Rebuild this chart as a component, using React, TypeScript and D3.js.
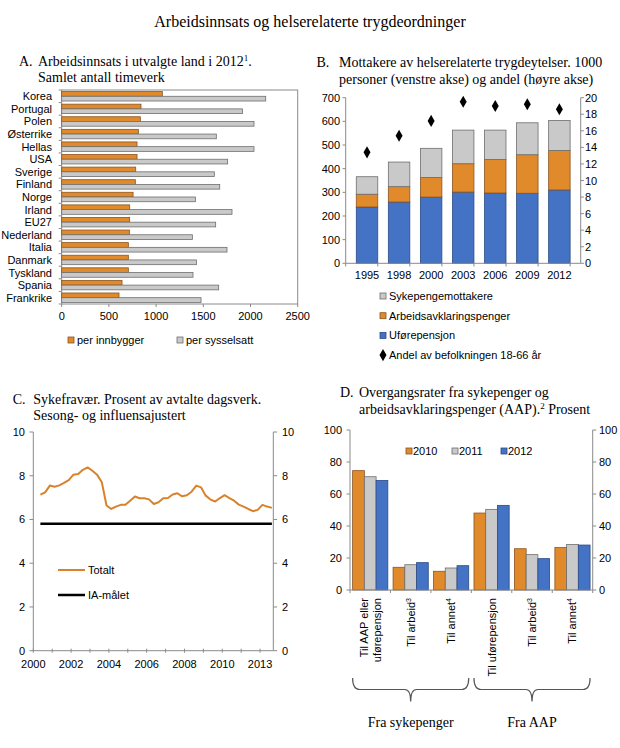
import React from "react";
import * as d3 from "d3";

// Panel A: arbeidsinnsats 2012
const countries = ["Korea", "Portugal", "Polen", "Østerrike", "Hellas", "USA", "Sverige", "Finland", "Norge", "Irland", "EU27", "Nederland", "Italia", "Danmark", "Tyskland", "Spania", "Frankrike"];
const perInnbygger = [1066, 840, 833, 812, 798, 798, 784, 780, 756, 720, 720, 717, 706, 706, 706, 639, 607];
const perSysselsatt = [2161, 1914, 2037, 1638, 2037, 1758, 1617, 1674, 1416, 1804, 1631, 1384, 1751, 1427, 1391, 1663, 1476];
const ticksA = [0, 500, 1000, 1500, 2000, 2500];

// Panel B: mottakere (1000 personer) og andel (%)
const yearsB = ["1995", "1998", "2000", "2003", "2006", "2009", "2012"];
const uforepensjon = [238, 259, 280, 301, 297, 296, 310];
const arbeidsavklaring = [54, 65, 83, 120, 142, 163, 167];
const sykepengemottakere = [74, 104, 123, 142, 124, 135, 127];
const andelBefolkning = [13.4, 15.4, 17.2, 19.5, 19.0, 19.2, 18.6];

// Panel C: sykefravær, kvartal fra 2000K2
const firstQuarter = 2000.375;
const sykefravaer = [7.14, 7.24, 7.55, 7.5, 7.56, 7.67, 7.8, 8.05, 8.08, 8.27, 8.38, 8.23, 8.05, 7.7, 6.64, 6.48, 6.59, 6.67, 6.67, 6.86, 7.05, 6.97, 6.97, 6.92, 6.71, 6.79, 6.97, 6.98, 7.14, 7.2, 7.06, 7.11, 7.27, 7.55, 7.47, 7.09, 6.91, 6.82, 6.98, 7.11, 6.98, 6.86, 6.68, 6.59, 6.48, 6.38, 6.44, 6.67, 6.59, 6.53];
const iaMaalet = 5.8;
const yearTicksC = [2000, 2001, 2002, 2003, 2004, 2005, 2006, 2007, 2008, 2009, 2010, 2011, 2012];
const labelTicksC = [2000, 2002, 2004, 2006, 2008, 2010, 2012];
const labelTextC = ["2000", "2002", "2004", "2006", "2008", "2010", "2013"];

// Panel D: overgangsrater
const groupsD = ["g1", "g2", "g3", "g4", "g5", "g6"];
const groupLines = [["Til AAP eller", "uførepensjon"], ["Til arbeid"], ["Til annet"], ["Til uførepensjon"], ["Til arbeid"], ["Til annet"]];
const groupSups = ["", "3", "4", "", "3", "4"];
const rate2010 = [74.6, 14.2, 11.7, 48.1, 25.8, 26.5];
const rate2011 = [70.8, 15.8, 13.75, 50.4, 22.1, 28.5];
const rate2012 = [68.5, 17.1, 15.2, 52.9, 19.6, 28.1];
const seriesD = ["2010", "2011", "2012"];

const SANS = "'Liberation Sans', Arial, sans-serif";
const SERIF = "'Liberation Serif', 'Times New Roman', serif";
const ORANGE = "#E08A2B";
const ORANGE_S = "#8C5420";
const GRAY = "#C9C9C9";
const GRAY_S = "#6E6E6E";
const BLUE = "#4472C4";
const BLUE_S = "#2B4C86";
const AXIS = "#8A8A8A";

function PanelA() {
  const x = d3.scaleLinear().domain([0, 2500]).range([61.7, 297.7]);
  const y = d3.scaleBand().domain(countries).range([90, 304]).paddingInner(0.25).paddingOuter(0.125);
  const sub = d3.scaleBand().domain(["inn", "syss"]).range([0, y.bandwidth()]);
  const step = y.step();
  return (
    <g>
      <text fontFamily={SERIF} fontSize={14} x={19} y={66}>A.<tspan x={38}>Arbeidsinnsats i utvalgte land i 2012</tspan><tspan fontSize={9} dy={-5}>1</tspan><tspan dy={5}>.</tspan></text>
      <text fontFamily={SERIF} fontSize={14} x={38} y={82}>Samlet antall timeverk</text>
      <rect x={x(0)} y={90} width={x(2500) - x(0)} height={214} fill="none" stroke={AXIS} />
      {countries.map((c, i) => (
        <g key={c}>
          <rect x={x(0)} y={(y(c) ?? 0) + (sub("inn") ?? 0)} width={x(perInnbygger[i]) - x(0)} height={sub.bandwidth()} fill={ORANGE} stroke={ORANGE_S} strokeWidth={0.8} />
          <rect x={x(0)} y={(y(c) ?? 0) + (sub("syss") ?? 0)} width={x(perSysselsatt[i]) - x(0)} height={sub.bandwidth()} fill={GRAY} stroke={GRAY_S} strokeWidth={0.8} />
          <text fontFamily={SANS} fontSize={11} x={52} y={(y(c) ?? 0) + y.bandwidth() / 2 + 4} textAnchor="end">{c}</text>
        </g>
      ))}
      {d3.range(countries.length + 1).map(k => (
        <line key={k} x1={x(0) - 3} x2={x(0)} y1={90 + k * step} y2={90 + k * step} stroke={AXIS} />
      ))}
      {ticksA.map(t => (
        <g key={t}>
          <line x1={x(t)} x2={x(t)} y1={304} y2={307} stroke={AXIS} />
          <text fontFamily={SANS} fontSize={11} x={x(t)} y={320} textAnchor="middle">{t}</text>
        </g>
      ))}
      <rect x={68} y={337} width={6} height={6} fill={ORANGE} stroke={ORANGE_S} strokeWidth={0.8} />
      <text fontFamily={SANS} fontSize={11} x={77} y={344}>per innbygger</text>
      <rect x={177} y={337} width={6} height={6} fill={GRAY} stroke={GRAY_S} strokeWidth={0.8} />
      <text fontFamily={SANS} fontSize={11} x={186} y={344}>per sysselsatt</text>
    </g>
  );
}

function PanelB() {
  const x = d3.scaleBand().domain(yearsB).range([345.7, 580.7]).padding(0.33);
  const yL = d3.scaleLinear().domain([0, 700]).range([263.3, 97.7]);
  const yR = d3.scaleLinear().domain([0, 20]).range([263.3, 97.7]);
  const rows = yearsB.map((yr, i) => ({ yr, ufor: uforepensjon[i], aap: arbeidsavklaring[i], syke: sykepengemottakere[i] }));
  const stack = d3.stack<any>().keys(["ufor", "aap", "syke"])(rows);
  const fills: Record<string, [string, string]> = { ufor: [BLUE, BLUE_S], aap: [ORANGE, ORANGE_S], syke: [GRAY, GRAY_S] };
  const diamond = d3.symbol().type(d3.symbolDiamond).size(42)() ?? "";
  const step = x.step();
  const legend = [
    { key: "syke", label: "Sykepengemottakere" },
    { key: "aap", label: "Arbeidsavklaringspenger" },
    { key: "ufor", label: "Uførepensjon" },
  ];
  return (
    <g>
      <text fontFamily={SERIF} fontSize={14} x={316.5} y={67}>B.<tspan x={339}>Mottakere av helserelaterte trygdeytelser. 1000</tspan></text>
      <text fontFamily={SERIF} fontSize={14} x={339} y={84}>personer (venstre akse) og andel (høyre akse)</text>
      {stack.map(layer => (
        <g key={layer.key}>
          {layer.map((d, i) => (
            <rect key={i} x={x(yearsB[i])} y={yL(d[1])} width={x.bandwidth()} height={yL(d[0]) - yL(d[1])} fill={fills[layer.key][0]} stroke={fills[layer.key][1]} strokeWidth={0.8} />
          ))}
        </g>
      ))}
      {andelBefolkning.map((v, i) => (
        <path key={i} d={diamond} transform={`translate(${(x(yearsB[i]) ?? 0) + x.bandwidth() / 2},${yR(v)})`} fill="#000" />
      ))}
      <line x1={345.7} x2={345.7} y1={97.7} y2={263.3} stroke={AXIS} />
      <line x1={580.7} x2={580.7} y1={97.7} y2={263.3} stroke={AXIS} />
      <line x1={345.7} x2={580.7} y1={263.3} y2={263.3} stroke={AXIS} />
      {yL.ticks(7).map(t => (
        <g key={t}>
          <line x1={342.5} x2={345.7} y1={yL(t)} y2={yL(t)} stroke={AXIS} />
          <text fontFamily={SANS} fontSize={11} x={340} y={yL(t) + 4} textAnchor="end">{t}</text>
        </g>
      ))}
      {yR.ticks(10).map(t => (
        <g key={t}>
          <line x1={580.7} x2={583.9} y1={yR(t)} y2={yR(t)} stroke={AXIS} />
          <text fontFamily={SANS} fontSize={11} x={585} y={yR(t) + 4}>{t}</text>
        </g>
      ))}
      {d3.range(yearsB.length + 1).map(k => (
        <line key={k} x1={345.7 + k * step} x2={345.7 + k * step} y1={263.3} y2={266.5} stroke={AXIS} />
      ))}
      {yearsB.map(yr => (
        <text key={yr} fontFamily={SANS} fontSize={11} x={(x(yr) ?? 0) + x.bandwidth() / 2} y={279} textAnchor="middle">{yr}</text>
      ))}
      {legend.map((l, i) => (
        <g key={l.key}>
          <rect x={380} y={293 + i * 19.7} width={6} height={6} fill={fills[l.key][0]} stroke={fills[l.key][1]} strokeWidth={0.8} />
          <text fontFamily={SANS} fontSize={11} x={389} y={300 + i * 19.7}>{l.label}</text>
        </g>
      ))}
      <path d={diamond} transform={`translate(383,${296 + 3 * 19.7})`} fill="#000" />
      <text fontFamily={SANS} fontSize={11} x={389} y={300 + 3 * 19.7}>Andel av befolkningen 18-66 år</text>
    </g>
  );
}

function PanelC() {
  const x = d3.scaleLinear().domain([2000, 2012.7]).range([33.3, 273.3]);
  const y = d3.scaleLinear().domain([0, 10]).range([650.7, 432]);
  const line = d3.line<number>().x((_, i) => x(firstQuarter + i / 4)).y(d => y(d));
  const xEnd = firstQuarter + (sykefravaer.length - 1) / 4;
  return (
    <g>
      <text fontFamily={SERIF} fontSize={14} x={12.7} y={404}>C.<tspan x={33.3}>Sykefravær. Prosent av avtalte dagsverk.</tspan></text>
      <text fontFamily={SERIF} fontSize={14} x={33.3} y={420}>Sesong- og influensajustert</text>
      <line x1={33.3} x2={33.3} y1={432} y2={650.7} stroke={AXIS} />
      <line x1={273.3} x2={273.3} y1={432} y2={650.7} stroke={AXIS} />
      <line x1={33.3} x2={273.3} y1={650.7} y2={650.7} stroke={AXIS} />
      {y.ticks(5).map(t => (
        <g key={t}>
          <line x1={29.5} x2={33.3} y1={y(t)} y2={y(t)} stroke={AXIS} />
          <text fontFamily={SANS} fontSize={11} x={25} y={y(t) + 4} textAnchor="end">{t}</text>
          <line x1={273.3} x2={277.1} y1={y(t)} y2={y(t)} stroke={AXIS} />
          <text fontFamily={SANS} fontSize={11} x={282} y={y(t) + 4}>{t}</text>
        </g>
      ))}
      {yearTicksC.map(t => (
        <line key={t} x1={x(t)} x2={x(t)} y1={648.7} y2={652.7} stroke={AXIS} />
      ))}
      {labelTicksC.map((t, i) => (
        <text key={t} fontFamily={SANS} fontSize={11} x={x(t)} y={668} textAnchor="middle">{labelTextC[i]}</text>
      ))}
      <line x1={x(firstQuarter)} x2={x(xEnd)} y1={y(iaMaalet)} y2={y(iaMaalet)} stroke="#000" strokeWidth={2.5} />
      <path d={line(sykefravaer) ?? ""} fill="none" stroke="#D9822B" strokeWidth={2} strokeLinejoin="round" />
      <line x1={58} x2={85} y1={570} y2={570} stroke="#D9822B" strokeWidth={2} />
      <text fontFamily={SANS} fontSize={11} x={88} y={574}>Totalt</text>
      <line x1={58} x2={85} y1={595} y2={595} stroke="#000" strokeWidth={2.5} />
      <text fontFamily={SANS} fontSize={11} x={88} y={599}>IA-målet</text>
    </g>
  );
}

function PanelD() {
  const x0 = d3.scaleBand().domain(groupsD).range([350, 592.7]).paddingInner(0.13).paddingOuter(0.065);
  const x1 = d3.scaleBand().domain(seriesD).range([0, x0.bandwidth()]);
  const y = d3.scaleLinear().domain([0, 100]).range([590, 430]);
  const values: Record<string, number[]> = { "2010": rate2010, "2011": rate2011, "2012": rate2012 };
  const fills: Record<string, [string, string]> = { "2010": [ORANGE, ORANGE_S], "2011": [GRAY, GRAY_S], "2012": [BLUE, BLUE_S] };
  const step = x0.step();
  const brace = (a: number, b: number) => {
    const m = (a + b) / 2;
    const top = 678, mid = 689.5, tip = 701.5;
    return `M${a},${top} Q${a},${mid} ${a + 7},${mid} L${m - 6},${mid} Q${m},${mid} ${m},${tip} Q${m},${mid} ${m + 6},${mid} L${b - 7},${mid} Q${b},${mid} ${b},${top}`;
  };
  const b1a = x0("g1") ?? 0, b1b = (x0("g3") ?? 0) + x0.bandwidth();
  const b2a = x0("g4") ?? 0, b2b = (x0("g6") ?? 0) + x0.bandwidth();
  const legendX = [410, 456, 505];
  return (
    <g>
      <text fontFamily={SERIF} fontSize={14} x={340} y={397}>D.<tspan x={359}>Overgangsrater fra sykepenger og</tspan></text>
      <text fontFamily={SERIF} fontSize={14} x={359} y={414}>arbeidsavklaringspenger (AAP).<tspan fontSize={9} dy={-5}>2</tspan><tspan dy={5}> Prosent</tspan></text>
      {seriesD.map(s => (
        <g key={s}>
          {groupsD.map((g, i) => (
            <rect key={g} x={(x0(g) ?? 0) + (x1(s) ?? 0)} y={y(values[s][i])} width={x1.bandwidth()} height={y(0) - y(values[s][i])} fill={fills[s][0]} stroke={fills[s][1]} strokeWidth={0.8} />
          ))}
        </g>
      ))}
      <line x1={350} x2={350} y1={430} y2={590} stroke={AXIS} />
      <line x1={592.7} x2={592.7} y1={430} y2={590} stroke={AXIS} />
      <line x1={350} x2={592.7} y1={590} y2={590} stroke={AXIS} />
      {y.ticks(5).map(t => (
        <g key={t}>
          <line x1={346.5} x2={350} y1={y(t)} y2={y(t)} stroke={AXIS} />
          <text fontFamily={SANS} fontSize={11} x={342} y={y(t) + 4} textAnchor="end">{t}</text>
          <line x1={592.7} x2={596.2} y1={y(t)} y2={y(t)} stroke={AXIS} />
          <text fontFamily={SANS} fontSize={11} x={599} y={y(t) + 4}>{t}</text>
        </g>
      ))}
      {d3.range(groupsD.length + 1).map(k => (
        <line key={k} x1={350 + k * step} x2={350 + k * step} y1={590} y2={593} stroke={AXIS} />
      ))}
      {groupsD.map((g, i) => {
        const cx = (x0(g) ?? 0) + x0.bandwidth() / 2;
        const lines = groupLines[i];
        return lines.map((ln, j) => {
          const off = (j - (lines.length - 1) / 2) * 13;
          return (
            <text key={g + j} fontFamily={SANS} fontSize={11} textAnchor="end" transform={`translate(${cx + off + 4},598) rotate(-90)`}>
              {ln}
              {groupSups[i] && <tspan fontSize={7} dy={-4}>{groupSups[i]}</tspan>}
            </text>
          );
        });
      })}
      <path d={brace(b1a, b1b)} fill="none" stroke="#555" strokeWidth={1.2} />
      <path d={brace(b2a, b2b)} fill="none" stroke="#555" strokeWidth={1.2} />
      <text fontFamily={SERIF} fontSize={14} x={(b1a + b1b) / 2} y={727} textAnchor="middle">Fra sykepenger</text>
      <text fontFamily={SERIF} fontSize={14} x={(b2a + b2b) / 2} y={727} textAnchor="middle">Fra AAP</text>
      {seriesD.map((s, i) => (
        <g key={s}>
          <rect x={legendX[i] - 4} y={448} width={6} height={6} fill={fills[s][0]} stroke={fills[s][1]} strokeWidth={0.8} />
          <text fontFamily={SANS} fontSize={11} x={legendX[i] + 3} y={455}>{s}</text>
        </g>
      ))}
    </g>
  );
}

export default function App() {
  return (
    <div style={{ position: "absolute", left: 0, top: 0, width: 620, height: 748, background: "#fff" }}>
      <svg width={620} height={748} style={{ display: "block" }}>
        <rect width={620} height={748} fill="#fff" />
        <text fontFamily={SERIF} fontSize={16} x={310} y={27} textAnchor="middle">Arbeidsinnsats og helserelaterte trygdeordninger</text>
        <PanelA />
        <PanelB />
        <PanelC />
        <PanelD />
      </svg>
    </div>
  );
}
